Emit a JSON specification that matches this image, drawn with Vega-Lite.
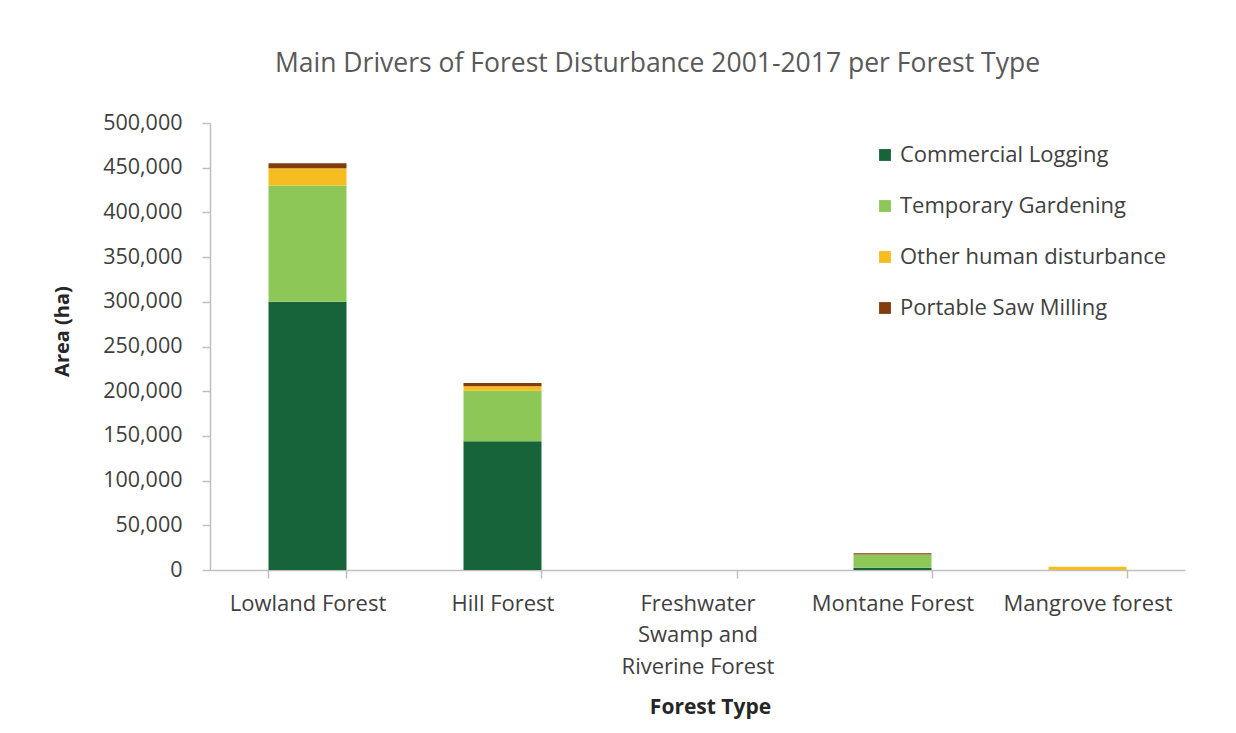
{
  "$schema": "https://vega.github.io/schema/vega-lite/v6.json",
  "width": 975,
  "height": 447,
  "autosize": {"type": "none"},
  "padding": {"left": 210, "top": 123, "right": 51, "bottom": 163},
  "background": "white",
  "title": {
    "text": "Main Drivers of Forest Disturbance 2001-2017 per Forest Type",
    "font": "Open Sans",
    "fontSize": 26.5,
    "fontWeight": "normal",
    "color": "#595959",
    "anchor": "middle",
    "dx": -40,
    "offset": 35
  },
  "config": {
    "view": {"stroke": null},
    "font": "Open Sans"
  },
  "data": {
    "values": [
      {"forest": "Lowland Forest", "driver": "Commercial Logging", "area": 300000},
      {"forest": "Lowland Forest", "driver": "Temporary Gardening", "area": 130000},
      {"forest": "Lowland Forest", "driver": "Other human disturbance", "area": 19500},
      {"forest": "Lowland Forest", "driver": "Portable Saw Milling", "area": 5500},
      {"forest": "Hill Forest", "driver": "Commercial Logging", "area": 144000},
      {"forest": "Hill Forest", "driver": "Temporary Gardening", "area": 56500},
      {"forest": "Hill Forest", "driver": "Other human disturbance", "area": 5000},
      {"forest": "Hill Forest", "driver": "Portable Saw Milling", "area": 3800},
      {"forest": "Freshwater Swamp and Riverine Forest", "driver": "Commercial Logging", "area": 0},
      {"forest": "Freshwater Swamp and Riverine Forest", "driver": "Temporary Gardening", "area": 0},
      {"forest": "Freshwater Swamp and Riverine Forest", "driver": "Other human disturbance", "area": 0},
      {"forest": "Freshwater Swamp and Riverine Forest", "driver": "Portable Saw Milling", "area": 0},
      {"forest": "Montane Forest", "driver": "Commercial Logging", "area": 2500},
      {"forest": "Montane Forest", "driver": "Temporary Gardening", "area": 14500},
      {"forest": "Montane Forest", "driver": "Other human disturbance", "area": 300},
      {"forest": "Montane Forest", "driver": "Portable Saw Milling", "area": 1500},
      {"forest": "Mangrove forest", "driver": "Commercial Logging", "area": 0},
      {"forest": "Mangrove forest", "driver": "Temporary Gardening", "area": 0},
      {"forest": "Mangrove forest", "driver": "Other human disturbance", "area": 3600},
      {"forest": "Mangrove forest", "driver": "Portable Saw Milling", "area": 0}
    ]
  },
  "transform": [
    {"calculate": "indexof(['Commercial Logging', 'Temporary Gardening', 'Other human disturbance', 'Portable Saw Milling'], datum.driver)", "as": "stackOrder"}
  ],
  "mark": {"type": "bar"},
  "encoding": {
    "x": {
      "field": "forest",
      "type": "nominal",
      "sort": null,
      "scale": {"paddingInner": 0.6, "paddingOuter": 0.3},
      "axis": {
        "title": "Forest Type",
        "titleFont": "Open Sans",
        "titleFontSize": 21,
        "titleFontWeight": "bold",
        "titleColor": "#262626",
        "titlePadding": 19,
        "titleX": 500,
        "labelAngle": 0,
        "labelFont": "Open Sans",
        "labelFontSize": 22,
        "labelColor": "#404040",
        "labelPadding": 15,
        "labelLineHeight": 31.5,
        "labelExpr": "datum.label == 'Freshwater Swamp and Riverine Forest' ? ['Freshwater', 'Swamp and', 'Riverine Forest'] : datum.label",
        "domainColor": "#bfbfbf",
        "domainWidth": 1.5,
        "tickColor": "#bfbfbf",
        "tickWidth": 1.5,
        "tickSize": 8,
        "tickBand": "extent"
      }
    },
    "y": {
      "field": "area",
      "type": "quantitative",
      "aggregate": "sum",
      "stack": "zero",
      "scale": {"domain": [0, 500000], "nice": false},
      "axis": {
        "title": "Area (ha)",
        "titleFont": "Open Sans",
        "titleFontSize": 20,
        "titleFontWeight": "bold",
        "titleColor": "#262626",
        "titlePadding": 30,
        "titleY": 208,
        "values": [0, 50000, 100000, 150000, 200000, 250000, 300000, 350000, 400000, 450000, 500000],
        "format": ",d",
        "labelFont": "Open Sans",
        "labelFontSize": 21.5,
        "labelColor": "#404040",
        "labelPadding": 20,
        "grid": false,
        "domainColor": "#bfbfbf",
        "domainWidth": 1.5,
        "tickColor": "#bfbfbf",
        "tickWidth": 1.5,
        "tickSize": 8
      }
    },
    "color": {
      "field": "driver",
      "type": "nominal",
      "sort": ["Commercial Logging", "Temporary Gardening", "Other human disturbance", "Portable Saw Milling"],
      "scale": {
        "domain": ["Commercial Logging", "Temporary Gardening", "Other human disturbance", "Portable Saw Milling"],
        "range": ["#17633a", "#8dc757", "#f6bd21", "#843c0c"]
      },
      "legend": {
        "title": null,
        "orient": "none",
        "legendX": 664,
        "legendY": 21,
        "symbolType": "square",
        "symbolSize": 140,
        "symbolStrokeWidth": 0,
        "labelFont": "Open Sans",
        "labelFontSize": 22,
        "labelColor": "#404040",
        "labelOffset": 4,
        "rowPadding": 29,
        "labelLimit": 400
      }
    },
    "order": {"field": "stackOrder", "type": "quantitative", "sort": "ascending"}
  }
}
